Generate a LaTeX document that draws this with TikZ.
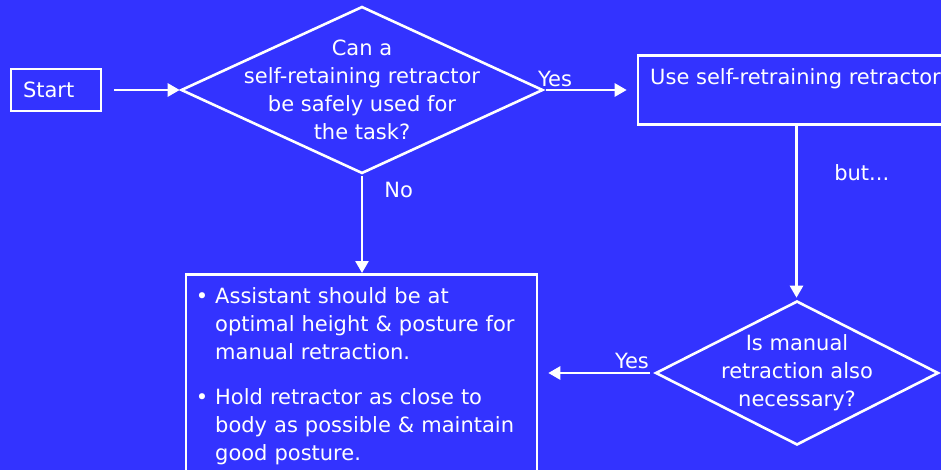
\documentclass[tikz,border=0pt]{standalone}
\usepackage{fontspec}
\setmainfont{DejaVu Sans}
\usepackage{xcolor}
\usepackage{tikz}
\usetikzlibrary{shapes.geometric,arrows.meta}
\definecolor{bg}{HTML}{3333FF}
\definecolor{ink}{HTML}{FFFFFF}
\tikzset{
  flowbox/.style={draw=ink, line width=2.6pt, inner sep=0pt},
  decision/.style={flowbox, shape=diamond},
  lab/.style={text=ink, inner sep=0pt, font=\fontsize{21}{28}\selectfont},
  flow/.style={draw=ink, line width=2.6pt, -{Triangle[length=12pt,width=13pt]}}
}

\begin{document}
\begin{tikzpicture}[x=1pt, y=-1pt]
  \fill[bg] (0,0) rectangle (941,470);
  \clip (0,0) rectangle (941,470);

  % shapes
  \node[flowbox, lab, minimum width=90pt, minimum height=42pt,
        text width=66pt, align=left] (start) at (56,90) {\raisebox{-2pt}{Start}};
  \node[decision, minimum width=362pt, minimum height=167pt] (q1) at (362,90) {};
  \node[flowbox, minimum width=317pt, minimum height=69pt] (use) at (796.5,90) {};
  \node[decision, minimum width=283pt, minimum height=144pt] (q2) at (797,373) {};
  \node[flowbox, anchor=north, minimum width=351pt, minimum height=220pt] (tips) at (361.5,273) {};

  % texts
  \node[lab, align=center] (q1txt) at (q1) {Can a\\self-retaining retractor\\be safely used for\\the task?};
  \node[lab, anchor=base west] (usetxt) at (650,85) {Use self-retraining retractor};
  \node[lab, align=center] (q2txt) at (q2) {Is manual\\retraction also\\necessary?};
  \node[lab, anchor=north west, text width=330pt, align=left] (tipstxt) at (202,283.4) {%
    \parindent=0pt\leftskip=13pt
    \leavevmode\llap{\textbullet\hspace{7pt}}\strut Assistant should be at\\
    optimal height \& posture for\\
    manual retraction.\par
    \vspace{17pt}
    \leavevmode\llap{\textbullet\hspace{7pt}}Hold retractor as close to\\
    body as possible \& maintain\\
    good posture.\par};

  % connectors
  \draw[flow, shorten <=12pt] (start) -- (q1);
  \draw[flow, shorten <=2pt, shorten >=10pt] (q1.east) -- (use.west)
    node[lab, pos=0.116, anchor=base, yshift=3pt] (yes1) {Yes};
  \draw[flow, shorten <=1.5pt] (q1.south) -- (q1.south |- tips.north)
    node[lab, pos=0.236, anchor=base west, xshift=21pt] (no) {No};
  \draw[flow, shorten >=2pt] (use.south) -- (use.south |- q2.north)
    node[lab, pos=0.3125, anchor=base west, xshift=36.5pt] (but) {but...};
  \draw[flow, shorten <=4.5pt, shorten >=10pt] (q2.west) -- (q2.west -| tips.east)
    node[lab, pos=0.192, anchor=base, yshift=5pt] (yes2) {Yes};
\end{tikzpicture}
\end{document}
